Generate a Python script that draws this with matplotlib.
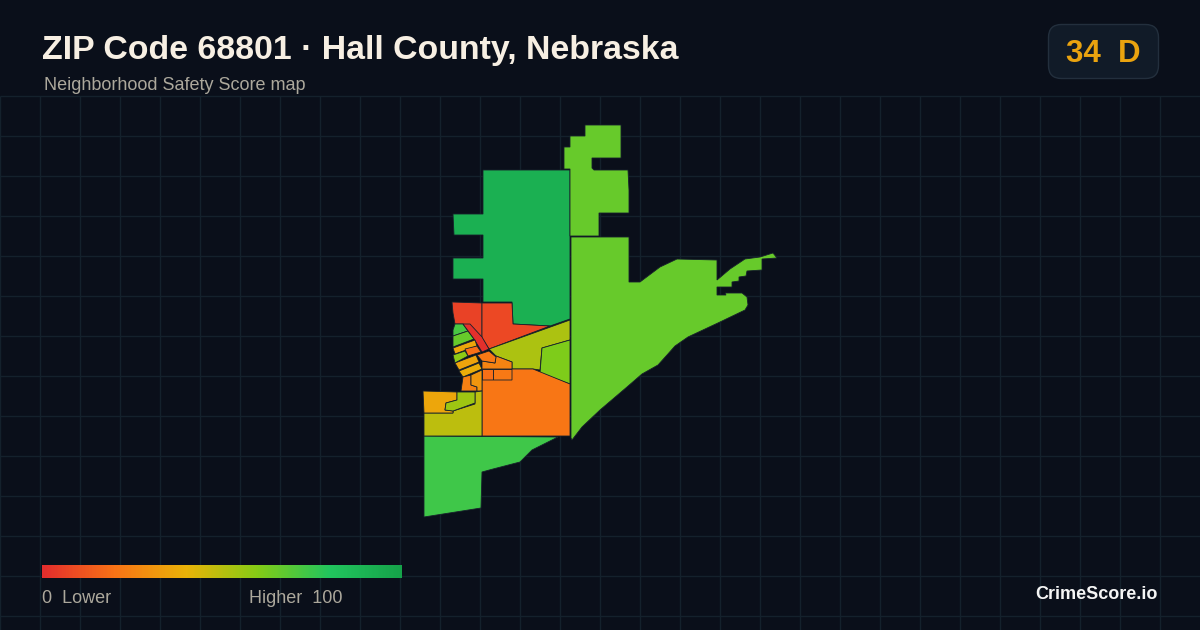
#!/usr/bin/env python3
"""Safety score map for ZIP 68801, drawn in image pixel coordinates."""
import numpy as np
import matplotlib
matplotlib.use("Agg")
import matplotlib.pyplot as plt
from matplotlib.colors import LinearSegmentedColormap
from matplotlib.patches import FancyBboxPatch, Polygon

plt.rcParams["font.family"] = ["Liberation Sans", "DejaVu Sans"]

BG = "#0a0f1a"
GRID = "#14212c"
EDGE = "#17212b"
MUTED = "#aca89c"

# colour ramp of the score legend
RAMP_STOPS = [0.0, 0.2, 0.4, 0.6, 0.8, 1.0]
RAMP_COLORS = ["#e32d2d", "#f97316", "#eab308", "#84cc16", "#22c55e", "#16a34a"]

# tract scores
north_score = 92
ne_score = 66
east_score = 66
south_score = 74
nw_red_score = 6
n_red_score = 8
red_strip_score = 1
green_top_score = 72
lime_top_score = 66
amber_a_score = 36
orange_a_score = 19
lime_b_score = 58
amber_b_score = 35
amber_c_score = 38
orange_top_score = 22
orange_mid_score = 25
orange_sq_a_score = 19
orange_sq_b_score = 22
big_orange_score = 21
olive_ne_score = 52
lime_e_score = 61
orange_w_score = 24
amber_w_score = 31
west_amber_score = 36
west_lime_score = 55
west_olive_score = 49

# tract outlines
north = [(483,170),(570,170),(570,319),(550,326),(513,324),(512,302),(483,302),(483,279),
         (453,279),(453,258),(483,258),(483,235),(454,235),(453,214),(483,214)]
ne = [(585,125),(621,125),(621,158),(592,158),(592,168),(594,170),(628,170),(629,190),
      (629,213),(615,213),(599,213),(599,236),(570,236),(570,169),(564,169),(564,147),
      (570,147),(570,136),(585,136)]
east = [(571,237),(629,237),(629,282),(640,282),(660,267),(677,259),(717,260),(717,280),
        (730,269),(745,259),(760,257),(773,253),(777,258),(762,259),(762,270),(747,271),
        (746,276),(739,277),(739,281),(732,282),(732,287),(717,287),(717,295),(726,295),
        (725,293),(742,293),(747,297),(748,305),(745,310),(720,322),(688,337),(675,346),
        (667,355),(658,365),(642,374),(627,387),(600,410),(582,427),(572,440),(571,438)]
south = [(424,436),(558,437),(532,450),(520,462),(493,469),(482,472),(481,508),(424,517)]
nw_red = [(452,302),(482,303),(482,338),(475,337),(463,324),(455,324),(453,313)]
n_red = [(482,303),(512,303),(513,324),(550,326),(489,349),(482,338)]
red_strip = [(463,324),(470,324),(482,337),(489,349),(482,352),(474,339)]
green_top = [(455,324),(463,324),(468,331),(453,336),(453,330)]
lime_top = [(453,336),(468,331),(474,339),(453,347)]
amber_a = [(453,348),(475,340),(477,346),(455,354)]
orange_a = [(465,349),(477,346),(481,352),(468,356)]
lime_b = [(453,355),(465,351),(468,356),(455,363)]
amber_b = [(455,363),(476,355),(479,362),(459,370)]
amber_c = [(459,371),(479,363),(482,369),(463,377)]
orange_top = [(477,355),(489,351),(496,357),(495,363),(482,361)]
orange_mid = [(482,361),(495,363),(496,356),(512,362),(512,369),(482,369)]
orange_sq_a = [(482,369),(493,369),(493,380),(482,380)]
orange_sq_b = [(493,369),(512,369),(512,380),(493,380)]
big_orange = [(482,380),(512,380),(512,369),(533,369),(570,384),(570,436),(482,436)]
olive_ne = [(489,349),(570,320),(570,340),(542,348),(540,370),(533,369),(512,369),(512,362),(496,356)]
lime_e = [(542,348),(570,340),(570,384),(540,373)]
orange_w = [(463,377),(471,375),(471,385),(477,387),(477,391),(461,391)]
amber_w = [(471,375),(482,370),(482,391),(477,391),(477,387),(471,385)]
west_amber = [(423,391),(457,392),(457,400),(446,403),(445,410),(453,411),(453,413),(424,413)]
west_lime = [(457,392),(475,392),(475,403),(453,411),(445,410),(446,403),(457,400)]
west_olive = [(424,413),(453,413),(453,411),(475,404),(475,392),(482,391),(482,436),(424,436)]

tracts = [
    (north, north_score), (ne, ne_score), (east, east_score), (south, south_score),
    (nw_red, nw_red_score), (n_red, n_red_score), (green_top, green_top_score),
    (lime_top, lime_top_score), (red_strip, red_strip_score), (amber_a, amber_a_score),
    (orange_a, orange_a_score), (lime_b, lime_b_score), (amber_b, amber_b_score),
    (amber_c, amber_c_score), (olive_ne, olive_ne_score), (lime_e, lime_e_score),
    (orange_mid, orange_mid_score), (orange_top, orange_top_score),
    (orange_sq_a, orange_sq_a_score), (orange_sq_b, orange_sq_b_score),
    (big_orange, big_orange_score), (orange_w, orange_w_score), (amber_w, amber_w_score),
    (west_olive, west_olive_score), (west_amber, west_amber_score), (west_lime, west_lime_score),
]

cmap = LinearSegmentedColormap.from_list("score", list(zip(RAMP_STOPS, RAMP_COLORS)))

fig = plt.figure(figsize=(12, 6.3), dpi=100, facecolor=BG)
ax = fig.add_axes([0, 0, 1, 1])

# background grid, only below the header
ax.vlines(np.arange(0, 1200, 40), 96, 630, color=GRID, lw=1, zorder=1)
ax.hlines(np.arange(96, 630, 40), 0, 1200, color=GRID, lw=1, zorder=1)

for outline, score in tracts:
    ax.add_patch(Polygon(outline, closed=True, facecolor=cmap(score / 100),
                         edgecolor=EDGE, lw=0.6, zorder=2))

# header
ax.text(42, 50, "ZIP Code 68801 · Hall County, Nebraska", color="#f7efe3", fontsize=24.4,
        fontweight="bold", va="center", ha="left", zorder=4)
ax.text(44, 86, "Neighborhood Safety Score map", color=MUTED, fontsize=13,
        va="center", ha="left", zorder=4)

# score badge
ax.add_patch(FancyBboxPatch((1048.5, 24.5), 110, 54, boxstyle="round,pad=0,rounding_size=13",
                            facecolor="#111b28", edgecolor="#232f3d", lw=1, zorder=3))
ax.text(1103.5, 54, "34  D", color="#eaa30f", fontsize=22.5, fontweight="bold",
        va="center", ha="center", zorder=4)

# legend ramp
ax.imshow(np.linspace(0, 1, 360).reshape(1, -1), cmap=cmap, vmin=0, vmax=1, aspect="auto",
          extent=(42, 402, 578, 565), zorder=3)
ax.text(42, 598.5, "0  Lower", color=MUTED, fontsize=13, va="center", ha="left", zorder=4)
ax.text(249, 598.5, "Higher  100", color=MUTED, fontsize=13, va="center", ha="left", zorder=4)
ax.text(1158, 594.5, "CrimeScore.io", color="#f5f5f5", fontsize=13, fontweight="bold",
        va="center", ha="right", zorder=4)

ax.set_xlim(0, 1200)
ax.set_ylim(630, 0)
ax.axis("off")

fig.savefig("out.png", dpi=100, facecolor=BG)
